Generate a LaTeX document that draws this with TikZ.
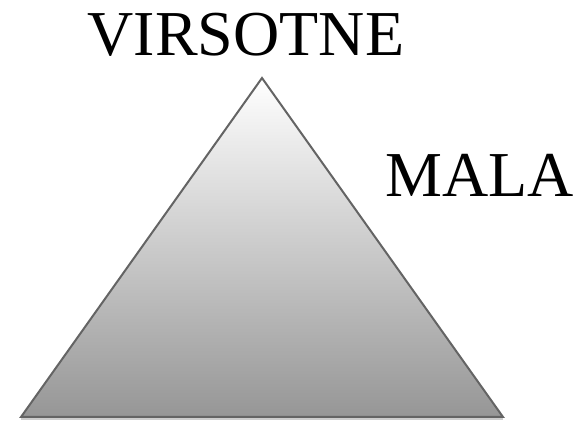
\documentclass[tikz,border=0pt]{standalone}
\usepackage{fontspec}
\setmainfont{Liberation Serif}
\usepackage{tikz}
\usetikzlibrary{positioning}

\definecolor{edgegray}{RGB}{100,100,100}
\definecolor{basegray}{RGB}{150,150,150}
\definecolor{shadowgray}{RGB}{205,205,205}

\begin{document}
\begin{tikzpicture}[
        x=1pt, y=1pt,
        label/.style={font=\fontsize{64}{70}\selectfont, inner sep=0pt, anchor=base},
        pyramid/.style={draw=edgegray, line width=2pt, line join=miter, top color=white, bottom color=basegray}
    ]
        \useasboundingbox (0,0) rectangle (579,422);
        \coordinate (apex) at (262,344);
        \coordinate (bl) at (21,5);
        \coordinate (br) at (503,5);

        % shadow under the base
        \fill[shadowgray] ([yshift=-3pt]bl) -- ([yshift=-3pt]br) -- (br) -- (bl) -- cycle;
        \path[pyramid] (apex) -- (br) -- (bl) -- cycle;

        \node[label] (top) at (246,366) {VIRSOTNE};
        \node[label] (low) at (480,225) {MALA};
    \end{tikzpicture}
\end{document}
